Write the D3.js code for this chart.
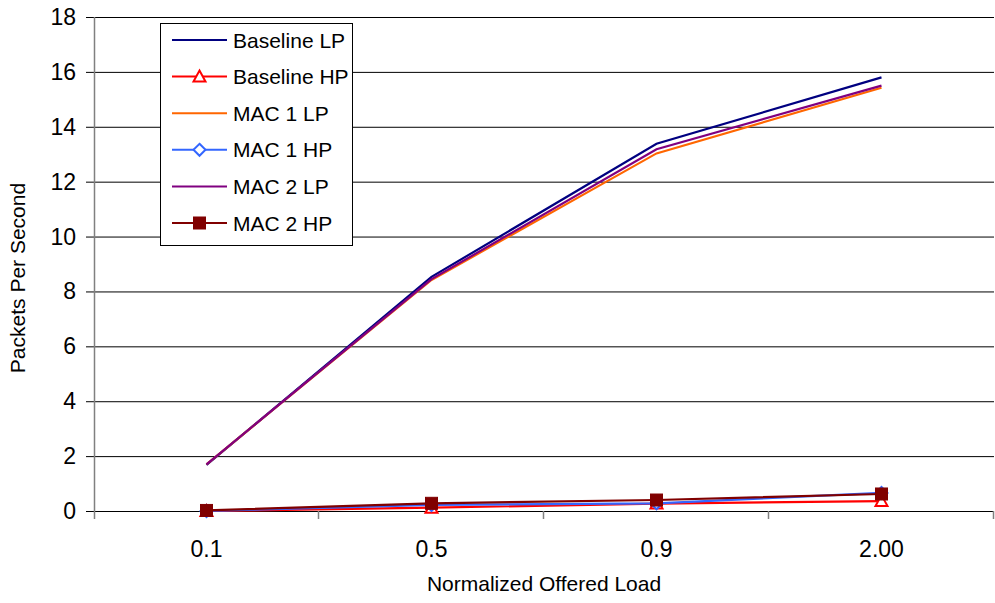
<!DOCTYPE html>
<html><head><meta charset="utf-8">
<script src="https://cdn.jsdelivr.net/npm/d3@7"></script>
<style>body{margin:0;background:#fff}svg{display:block;font-family:"Liberation Sans",Arial,sans-serif}</style>
</head><body><svg id="c" width="995" height="603"></svg>
<script>
const categories = ["0.1", "0.5", "0.9", "2.00"];
const baselineLP = [1.68, 8.53, 13.38, 15.8];
const baselineHP = [0.0, 0.12, 0.27, 0.36];
const mac1LP = [1.7, 8.42, 13.03, 15.42];
const mac1HP = [0.0, 0.22, 0.28, 0.66];
const mac2LP = [1.7, 8.45, 13.18, 15.5];
const mac2HP = [0.02, 0.28, 0.4, 0.62];
const seriesNames = ["Baseline LP", "Baseline HP", "MAC 1 LP", "MAC 1 HP", "MAC 2 LP", "MAC 2 HP"];
const yTicks = [0, 2, 4, 6, 8, 10, 12, 14, 16, 18];

const series = [
  {name: seriesNames[0], values: baselineLP, color: "#000080", marker: null},
  {name: seriesNames[1], values: baselineHP, color: "#FF0000", marker: "triangle"},
  {name: seriesNames[2], values: mac1LP, color: "#FF6600", marker: null},
  {name: seriesNames[3], values: mac1HP, color: "#3366FF", marker: "diamond"},
  {name: seriesNames[4], values: mac2LP, color: "#800080", marker: null},
  {name: seriesNames[5], values: mac2HP, color: "#800000", marker: "square"}
];

const svg = d3.select("#c");
const L = 94, R = 994, T = 17, B = 511;
const x = d3.scaleBand().domain(categories).range([L, R]);
const y = d3.scaleLinear().domain([0, 18]).range([B, T]);

svg.append("g").selectAll("line").data(yTicks).join("line")
  .attr("x1", L - 8).attr("x2", R).attr("y1", d => y(d) + 0.5).attr("y2", d => y(d) + 0.5)
  .attr("stroke", "#000").attr("stroke-width", 1);

svg.append("line").attr("x1", L + 0.5).attr("x2", L + 0.5).attr("y1", T).attr("y2", B + 8)
  .attr("stroke", "#808080").attr("stroke-width", 1.5);

const bounds = categories.map(c => x(c)).concat([R]);
svg.append("g").selectAll("line").data(bounds.slice(1)).join("line")
  .attr("x1", d => d - 0.5).attr("x2", d => d - 0.5).attr("y1", B).attr("y2", B + 8)
  .attr("stroke", "#808080").attr("stroke-width", 1.5);

svg.append("g").selectAll("text").data(yTicks).join("text")
  .attr("x", 76).attr("y", d => y(d) + 8).attr("text-anchor", "end")
  .attr("font-size", 23).attr("fill", "#000").text(d => d);

svg.append("g").selectAll("text").data(categories).join("text")
  .attr("x", d => x(d) + x.bandwidth() / 2).attr("y", 557).attr("text-anchor", "middle")
  .attr("font-size", 23).attr("fill", "#000").text(d => d);

svg.append("text").attr("x", (L + R) / 2).attr("y", 591).attr("text-anchor", "middle")
  .attr("font-size", 21).text("Normalized Offered Load");
svg.append("text").attr("transform", `translate(25,${(T + B) / 2 + 14}) rotate(-90)`)
  .attr("text-anchor", "middle").attr("font-size", 21).text("Packets Per Second");

const cx = c => x(c) + x.bandwidth() / 2;
const line = d3.line().x((d, i) => cx(categories[i])).y(d => y(d));

function drawMarker(g, type, color, px, py) {
  if (type === "triangle") {
    g.append("path").attr("d", `M${px},${py - 6} L${px + 6},${py + 5} L${px - 6},${py + 5} Z`)
      .attr("fill", "#fff").attr("stroke", color).attr("stroke-width", 2);
  } else if (type === "diamond") {
    g.append("path").attr("d", `M${px},${py - 6} L${px + 6},${py} L${px},${py + 6} L${px - 6},${py} Z`)
      .attr("fill", "#fff").attr("stroke", color).attr("stroke-width", 2);
  } else if (type === "square") {
    g.append("rect").attr("x", px - 6).attr("y", py - 6).attr("width", 12).attr("height", 12)
      .attr("fill", color).attr("stroke", color).attr("stroke-width", 1);
  }
}

series.forEach(s => {
  const g = svg.append("g");
  g.append("path").attr("d", line(s.values)).attr("fill", "none")
    .attr("stroke", s.color).attr("stroke-width", 2.2);
  if (s.marker) s.values.forEach((v, i) => drawMarker(g, s.marker, s.color, cx(categories[i]), y(v)));
});

const lg = svg.append("g");
lg.append("rect").attr("x", 160.5).attr("y", 23.5).attr("width", 192).attr("height", 222)
  .attr("fill", "#fff").attr("stroke", "#000").attr("stroke-width", 1);
series.forEach((s, i) => {
  const ly = 40 + i * 36.6;
  lg.append("line").attr("x1", 172).attr("x2", 227).attr("y1", ly).attr("y2", ly)
    .attr("stroke", s.color).attr("stroke-width", 2);
  if (s.marker) drawMarker(lg, s.marker, s.color, 199.5, ly);
  lg.append("text").attr("x", 233).attr("y", ly + 7.5).attr("font-size", 21).text(s.name);
});
</script></body></html>
